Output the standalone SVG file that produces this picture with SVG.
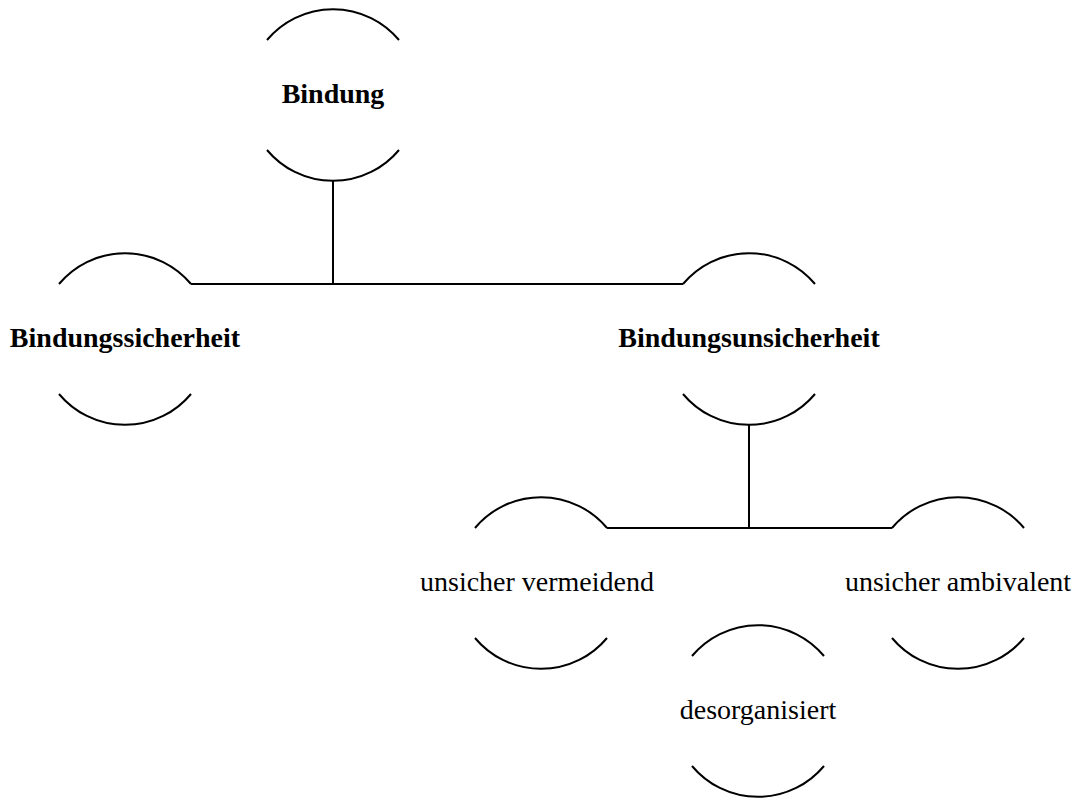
<svg xmlns="http://www.w3.org/2000/svg" width="1075" height="798" viewBox="0 0 1075 798">
  <defs>
    <!-- open circle: only the upper and lower caps are drawn -->
    <g id="caps">
      <path d="M -66 -55 A 86 86 0 0 1 66 -55"/>
      <path d="M -66 55 A 86 86 0 0 0 66 55"/>
    </g>
  </defs>
  <style>
    .node use { fill: none; stroke: #000; stroke-width: 2; }
    .node text { font-family: "Liberation Serif", "Times New Roman", serif; font-size: 28px; text-anchor: middle; fill: #000; }
    .node text.main { font-weight: bold; }
    .links path { fill: none; stroke: #000; stroke-width: 2; }
  </style>
  <rect width="1075" height="798" fill="#fff"/>

  <g class="links">
    <path d="M 333 181 V 284"/>
    <path d="M 191 284 H 683"/>
    <path d="M 749 425 V 528"/>
    <path d="M 607 528 H 892"/>
  </g>

  <g id="bindung" class="node" transform="translate(333 95)">
    <use href="#caps"/>
    <text class="main" y="8">Bindung</text>
  </g>
  <g id="bindungssicherheit" class="node" transform="translate(125 339)">
    <use href="#caps"/>
    <text class="main" y="8">Bindungssicherheit</text>
  </g>
  <g id="bindungsunsicherheit" class="node" transform="translate(749 339)">
    <use href="#caps"/>
    <text class="main" y="8">Bindungsunsicherheit</text>
  </g>
  <g id="unsicher-vermeidend" class="node" transform="translate(541 583)">
    <use href="#caps"/>
    <text x="-4" y="8">unsicher vermeidend</text>
  </g>
  <g id="desorganisiert" class="node" transform="translate(758 711)">
    <use href="#caps"/>
    <text y="8">desorganisiert</text>
  </g>
  <g id="unsicher-ambivalent" class="node" transform="translate(958 583)">
    <use href="#caps"/>
    <text y="8">unsicher ambivalent</text>
  </g>
</svg>
